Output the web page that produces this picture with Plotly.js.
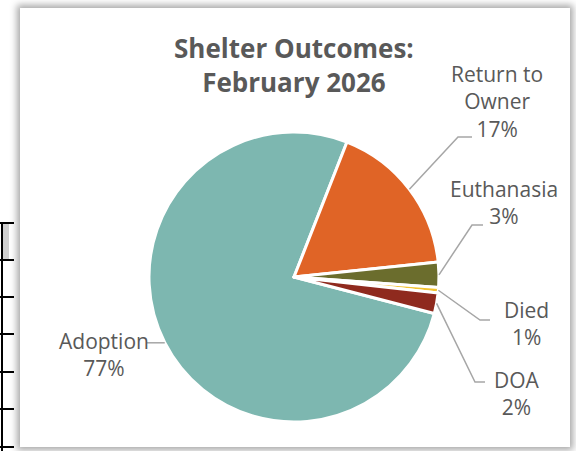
<!DOCTYPE html>
<html><head><meta charset="utf-8">
<script src="https://cdn.plot.ly/plotly-3.0.1.min.js"></script>
<style>
html,body{margin:0;padding:0;background:#fff;width:576px;height:451px;overflow:hidden;position:relative;}
#frame{position:absolute;left:20px;top:8px;width:550px;height:439px;box-shadow:0 0 7px 3px rgba(0,0,0,0.35);background:#fff;z-index:2;}
#chart{width:550px;height:439px;}
.v{position:absolute;left:1px;top:222px;width:2px;height:229px;background:#000;z-index:1;}
.h{position:absolute;left:0;width:14px;height:2px;background:#000;z-index:1;}
.g{position:absolute;left:3px;top:224px;width:6px;height:35px;background:#cfcfcf;z-index:1;}
</style></head>
<body>
<div class="g"></div>
<div class="v"></div>
<div class="h" style="top:222px"></div>
<div class="h" style="top:259px"></div>
<div class="h" style="top:296px"></div>
<div class="h" style="top:333px"></div>
<div class="h" style="top:371px"></div>
<div class="h" style="top:408px"></div>
<div class="h" style="top:446px"></div>
<div id="frame"><div id="chart"></div></div>
<script>
// Data
const categories = ['Adoption', 'Return to Owner', 'Euthanasia', 'Died', 'DOA'];
const shares = [76.9, 17.4, 2.8, 0.6, 2.3];
const sliceColors = ['#7db7b0', '#e06426', '#6b6d2d', '#f2c230', '#8f2a1e'];
const labelTexts = ['Adoption', 'Return to<br>Owner', 'Euthanasia', 'Died', 'DOA'];

// Layout constants (pixels within chart div)
const W = 550, H = 439;
const domX = [0.2345, 0.7618], domY = [0.0569, 0.7175];
const rotation = 104.6;
const textColor = '#595959';
const lineColor = '#a6a6a6';
const FONT = '"Open Sans", "Liberation Sans", sans-serif';

// label centers & elbow points in page pixels (frame offset 20,8)
const labelPos = [[104, 354], [497, 101], [504, 202], [526, 323], [517, 393]];
const elbows = [[147, null], [458, 137], [472, 225], [480, 320], [475, 382]];
const ends = [null, [472, 137], [483, 225], [490, 320], [485, 382]];

const px2x = p => (p - 20) / W;
const py2y = p => 1 - (p - 8) / H;

const total = shares.reduce((a, b) => a + b, 0);
const cx = W * (domX[0] + domX[1]) / 2;
const cy = H * (1 - (domY[0] + domY[1]) / 2);
const r = Math.min(W * (domX[1] - domX[0]), H * (domY[1] - domY[0])) / 2;

let ang = rotation;
const anchors = shares.map(v => {
  const sweep = v / total * 360;
  const mid = (ang + sweep / 2) * Math.PI / 180;
  ang += sweep;
  return [cx + r * Math.sin(mid) + 20, cy - r * Math.cos(mid) + 8];
});

const annotations = categories.map((c, i) => ({
  text: labelTexts[i] + '<br>' + Math.round(shares[i] / total * 100) + '%',
  x: px2x(labelPos[i][0]), y: py2y(labelPos[i][1]),
  xref: 'paper', yref: 'paper', xanchor: 'center', yanchor: 'middle',
  showarrow: false, align: 'center',
  font: {family: FONT, size: 21, color: textColor}
}));

const shapes = anchors.map((a, i) => {
  let path;
  if (i === 0) {
    path = `M${px2x(a[0])},${py2y(a[1])} L${px2x(elbows[0][0])},${py2y(a[1])}`;
  } else {
    path = `M${px2x(a[0])},${py2y(a[1])} L${px2x(elbows[i][0])},${py2y(elbows[i][1])} L${px2x(ends[i][0])},${py2y(ends[i][1])}`;
  }
  return {type: 'path', xref: 'paper', yref: 'paper', path: path,
          line: {color: lineColor, width: 1.5}};
});

const data = [{
  type: 'pie',
  labels: categories,
  values: shares,
  sort: false,
  direction: 'clockwise',
  rotation: rotation,
  textinfo: 'none',
  hoverinfo: 'label+percent',
  marker: {colors: sliceColors, line: {color: '#ffffff', width: 3}},
  domain: {x: domX, y: domY},
  showlegend: false
}];

const layout = {
  width: W, height: H,
  margin: {l: 0, r: 0, t: 0, b: 0},
  paper_bgcolor: '#ffffff',
  title: {
    text: '<b>Shelter Outcomes:<br>February 2026</b>',
    x: 0.498, xanchor: 'center',
    y: 1 - 50 / H, yanchor: 'top', yref: 'container',
    font: {family: FONT, size: 26, color: textColor}
  },
  annotations: annotations,
  shapes: shapes,
  showlegend: false
};

Plotly.newPlot('chart', data, layout, {displayModeBar: false, staticPlot: true});
</script>
</body></html>
